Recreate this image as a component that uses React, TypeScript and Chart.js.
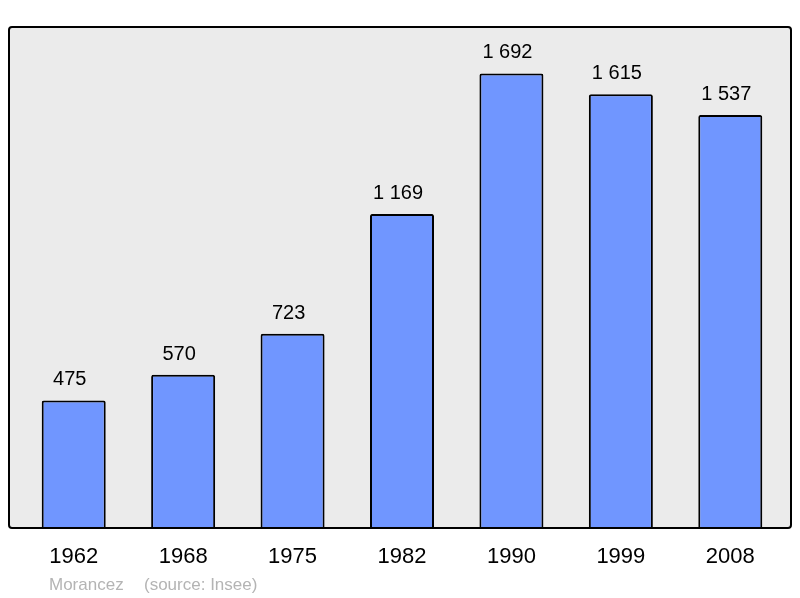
import React, { useEffect, useRef } from "react";
import { Chart, registerables } from "chart.js";

Chart.register(...registerables);

const years = ["1962", "1968", "1975", "1982", "1990", "1999", "2008"];
const population = [475, 570, 723, 1169, 1692, 1615, 1537];
const footerLeft = "Morancez";
const footerRight = "(source: Insee)";

const fmt = (v: number) => {
  const s = String(Math.round(v));
  return s.replace(/\B(?=(\d{3})+(?!\d))/g, " ");
};

const FONT = "'Liberation Sans', Arial, sans-serif";

const framePlugin = {
  id: "frame",
  beforeDraw(chart: any) {
    const { ctx, chartArea } = chart;
    const l = chartArea.left - 10, r = chartArea.right + 6;
    const t = chartArea.top - 1, b = chartArea.bottom;
    ctx.save();
    ctx.fillStyle = "#ebebeb";
    ctx.beginPath();
    ctx.roundRect(l, t, r - l, b - t, 3);
    ctx.fill();
    ctx.restore();
  },
  afterDatasetsDraw(chart: any) {
    const { ctx, chartArea } = chart;
    const l = chartArea.left - 10, r = chartArea.right + 6;
    const t = chartArea.top - 1, b = chartArea.bottom;
    ctx.save();
    ctx.strokeStyle = "#000";
    ctx.lineWidth = 2;
    ctx.beginPath();
    ctx.roundRect(l, t, r - l, b - t, 3);
    ctx.stroke();
    // value labels
    const meta = chart.getDatasetMeta(0);
    ctx.fillStyle = "#000";
    ctx.font = `20px ${FONT}`;
    ctx.textAlign = "center";
    ctx.textBaseline = "alphabetic";
    meta.data.forEach((el: any, i: number) => {
      ctx.fillText(fmt(population[i]), el.x - 4, el.y - 15);
    });
    // footer
    ctx.fillStyle = "#b4b4b4";
    ctx.font = `17px ${FONT}`;
    ctx.textAlign = "left";
    ctx.fillText(footerLeft, 49, 590);
    ctx.fillText(footerRight, 144, 590);
    ctx.restore();
  },
};

export default function App() {
  const ref = useRef<HTMLCanvasElement>(null);
  useEffect(() => {
    if (!ref.current) return;
    const chart = new Chart(ref.current, {
      type: "bar",
      data: {
        labels: years,
        datasets: [
          {
            data: population,
            backgroundColor: "#7096ff",
            borderColor: "#000",
            borderWidth: 2,
            borderRadius: 2,
            borderSkipped: "bottom",
            categoryPercentage: 1,
            barPercentage: 0.585,
          },
        ],
      },
      options: {
        animation: false,
        responsive: false,
        maintainAspectRatio: false,
        layout: { padding: { top: 28, left: 19, right: 15, bottom: 0 } },
        plugins: { legend: { display: false }, tooltip: { enabled: false } },
        scales: {
          x: {
            grid: { display: false, drawTicks: false },
            border: { display: false },
            ticks: { color: "#000", font: { family: FONT, size: 22 }, padding: 16 },
            afterFit: (s: any) => {
              s.height = 70;
            },
          },
          y: {
            display: false,
            min: 0,
            max: Math.max(...population) * 1.1,
          },
        },
      },
      plugins: [framePlugin],
    });
    return () => chart.destroy();
  }, []);
  return (
    <div style={{ position: "fixed", left: 0, top: 0, width: 800, height: 598, background: "#fff" }}>
      <canvas ref={ref} width={800} height={598} style={{ width: 800, height: 598 }} />
    </div>
  );
}
